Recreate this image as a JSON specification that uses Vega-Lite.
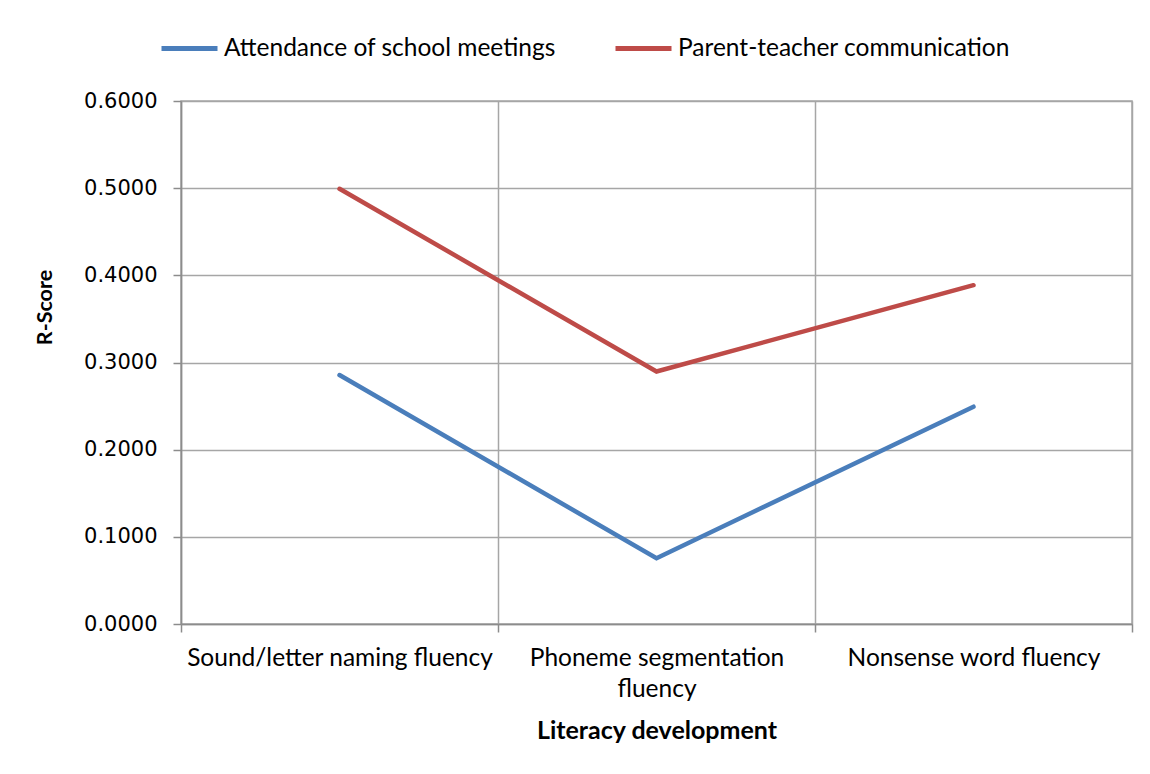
{
  "$schema": "https://vega.github.io/schema/vega-lite/v6.json",
  "width": 951,
  "height": 523,
  "autosize": "none",
  "padding": {"left": 181, "top": 101, "right": 18, "bottom": 150},
  "background": "white",
  "config": {
    "view": {"stroke": "#a6a6a6", "strokeWidth": 1.5},
    "font": "Lato"
  },
  "data": {
    "values": [
      {"skill": "Sound/letter naming fluency", "series": "Attendance of school meetings", "r": 0.2856},
      {"skill": "Phoneme segmentation fluency", "series": "Attendance of school meetings", "r": 0.0755},
      {"skill": "Nonsense word fluency", "series": "Attendance of school meetings", "r": 0.2493},
      {"skill": "Sound/letter naming fluency", "series": "Parent-teacher communication", "r": 0.4993},
      {"skill": "Phoneme segmentation fluency", "series": "Parent-teacher communication", "r": 0.2897},
      {"skill": "Nonsense word fluency", "series": "Parent-teacher communication", "r": 0.3887}
    ]
  },
  "mark": {"type": "line", "strokeWidth": 4.5, "strokeCap": "round", "strokeJoin": "miter"},
  "encoding": {
    "x": {
      "field": "skill",
      "type": "nominal",
      "sort": ["Sound/letter naming fluency", "Phoneme segmentation fluency", "Nonsense word fluency"],
      "scale": {"paddingInner": 0, "paddingOuter": 0},
      "axis": {
        "title": "Literacy development",
        "titleFont": "Lato",
        "titleFontSize": 25,
        "titleFontWeight": "bold",
        "titleColor": "#000000",
        "titlePadding": 18,
        "tickBand": "extent",
        "grid": true,
        "gridColor": "#a6a6a6",
        "gridWidth": 1.5,
        "domainColor": "#8c8c8c",
        "domainWidth": 1.5,
        "tickColor": "#8c8c8c",
        "tickWidth": 1.5,
        "tickSize": 8,
        "labelAngle": 0,
        "labelFont": "Lato",
        "labelFontSize": 24.5,
        "labelColor": "#000000",
        "labelPadding": 14,
        "labelLineHeight": 31,
        "labelLimit": 400,
        "labelExpr": "datum.value == 'Phoneme segmentation fluency' ? ['Phoneme segmentation', 'fluency'] : datum.value"
      }
    },
    "y": {
      "field": "r",
      "type": "quantitative",
      "scale": {"domain": [0, 0.6], "nice": false, "zero": true},
      "axis": {
        "title": "R-Score",
        "titleFont": "Lato",
        "titleFontSize": 21.5,
        "titleFontWeight": "bold",
        "titleColor": "#000000",
        "titleAngle": -90,
        "titleAlign": "center",
        "titleBaseline": "middle",
        "titleX": -136,
        "titleY": 206,
        "values": [0, 0.1, 0.2, 0.3, 0.4, 0.5, 0.6],
        "format": ".4f",
        "grid": true,
        "gridColor": "#a6a6a6",
        "gridWidth": 1.5,
        "domainColor": "#8c8c8c",
        "domainWidth": 1.5,
        "tickColor": "#8c8c8c",
        "tickWidth": 1.5,
        "tickSize": 8,
        "labelFont": "DejaVu Sans",
        "labelFontSize": 21,
        "labelColor": "#000000",
        "labelPadding": 16
      }
    },
    "color": {
      "field": "series",
      "type": "nominal",
      "scale": {
        "domain": ["Attendance of school meetings", "Parent-teacher communication"],
        "range": ["#4a7ebb", "#be4b48"]
      },
      "legend": {
        "orient": "none",
        "direction": "horizontal",
        "legendX": -22,
        "legendY": -83,
        "title": null,
        "symbolType": "stroke",
        "symbolStrokeWidth": 5,
        "symbolSize": 3136,
        "labelFont": "Lato",
        "labelFontSize": 24.5,
        "labelColor": "#000000",
        "labelOffset": 4,
        "labelLimit": 500,
        "columnPadding": 49
      }
    }
  }
}
